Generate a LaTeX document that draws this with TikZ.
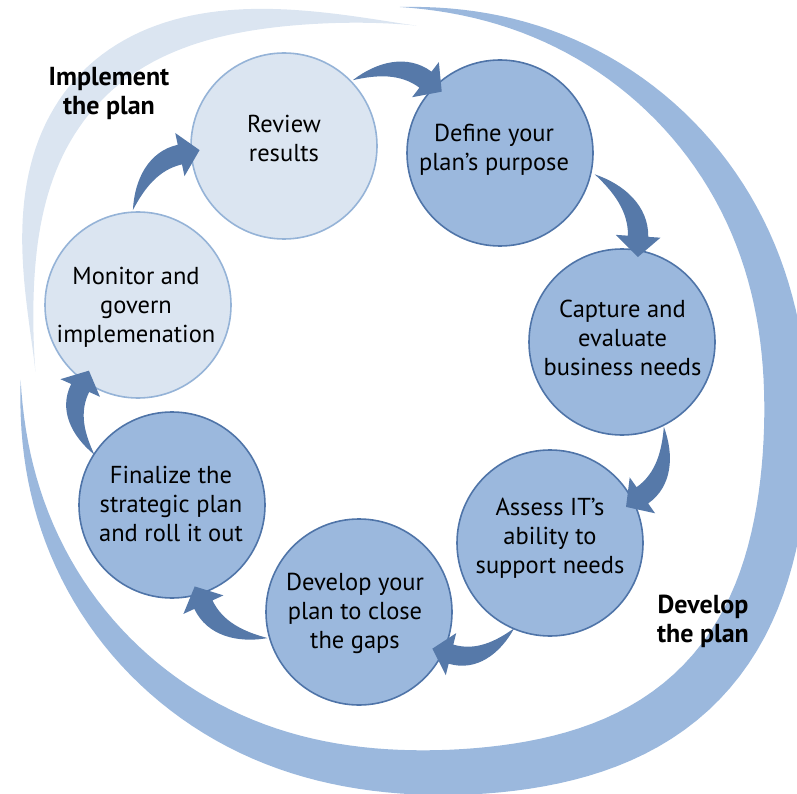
\documentclass[tikz,border=0pt]{standalone}
\usepackage{fontspec}
\newfontfamily\ptsans{PT Sans}
\definecolor{lightfill}{RGB}{219,229,241}
\definecolor{lightline}{RGB}{149,179,215}
\definecolor{midfill}{RGB}{155,184,221}
\definecolor{midline}{RGB}{79,116,168}
\definecolor{arrowc}{RGB}{86,121,169}
\tikzset{
  stagebase/.style={circle, line width=1.6pt, minimum size=186pt, inner sep=0pt},
  lightc/.style={stagebase, draw=lightline, fill=lightfill},
  darkc/.style={stagebase, draw=midline, fill=midfill},
  stagetext/.style={align=center, inner sep=0pt, text=black, font={\ptsans\fontsize{24.5}{29}\selectfont}},
  phase/.style={align=center, inner sep=0pt, font={\ptsans\bfseries\fontsize{26}{29}\selectfont}},
  cyclearrow/.pic={
    \fill[arrowc] (65.6,-68) .. controls +(-40:30) and +(-145:30) .. (142.9,-79.1)
      -- (149.8,-88.9) -- (153.6,-59.4) -- (124.6,-52.9) -- (131.5,-62.7)
      .. controls +(-145:24) and +(-15:24) .. (65.6,-68) -- cycle;
  }
}
\begin{document}
\begin{tikzpicture}[x=1pt,y=-1pt,
  declare function={
    csq(\t)=cos(\t)*cos(\t);
    dbump(\t)=40*csq(\t-45)*csq(\t-45)*csq(\t-45)*csq(\t-45);
    dwid(\t)=50*sin((\t+88.8)*0.670391);
    lrin(\t)=352+50*csq(\t+137)*csq(\t+137)*csq(\t+137)*csq(\t+137);
    lsn(\t)=abs(sin((\t+86)*1.935484));
    lwid(\t)=34*lsn(\t)*sqrt(lsn(\t));
  }]
\useasboundingbox (0,0) rectangle (797,794);
\clip (0,0) rectangle (797,794);
% outer dark band (develop the plan)
\fill[midfill]
  plot[domain=-88.8:179.7, samples=140, variable=\t]
    ({392+(369+dbump(\t)+dwid(\t))*cos(\t)}, {378+(369+dbump(\t)+dwid(\t))*sin(\t)})
  -- plot[domain=179.7:-88.8, samples=140, variable=\t]
    ({392+(369+dbump(\t))*cos(\t)}, {378+(369+dbump(\t))*sin(\t)}) -- cycle;
% light band (implement the plan)
\fill[lightfill]
  plot[domain=-86:-179, samples=80, variable=\t]
    ({392+(lrin(\t)+lwid(\t))*cos(\t)}, {378+(lrin(\t)+lwid(\t))*sin(\t)})
  -- plot[domain=-179:-86, samples=80, variable=\t]
    ({392+lrin(\t)*cos(\t)}, {378+lrin(\t)*sin(\t)}) -- cycle;
% stages
\node[lightc] (rev) at (284,146) {};
\node[darkc] (def) at (500,153) {};
\node[darkc] (cap) at (622,342) {};
\node[darkc] (ass) at (550,543) {};
\node[darkc] (dev) at (359,612) {};
\node[darkc] (fin) at (172,505) {};
\node[lightc] (mon) at (138,305) {};
% stage texts
\node[stagetext] (revt) at (284,138.5) {Review\\results};
\node[stagetext] (deft) at (494,150) {Define your\\plan’s purpose};
\node[stagetext] (capt) at (622.5,337.5) {Capture and\\evaluate\\business needs};
\node[stagetext] (asst) at (550,538) {Assess IT’s\\ability to\\support needs};
\node[stagetext] (devt) at (355,613.5) {Develop your\\plan to close\\the gaps};
\node[stagetext] (fint) at (171,503.5) {Finalize the\\strategic plan\\and roll it out};
\node[stagetext] (mont) at (136,307) {Monitor and\\govern\\implemenation};
% arrows between stages
\path (rev.center) pic[rotate=-1.86, xscale=1.015] {cyclearrow};
\path (def.center) pic[rotate=-57.16, xscale=1.056] {cyclearrow};
\path (cap.center) pic[rotate=-109.71, xscale=1.002] {cyclearrow};
\path (ass.center) pic[rotate=-160.14, xscale=0.954] {cyclearrow};
\path (dev.center) pic[rotate=150.22, xscale=1.011] {cyclearrow};
\path (fin.center) pic[rotate=99.65, xscale=0.953] {cyclearrow};
\path (mon.center) pic[rotate=47.44, xscale=1.014] {cyclearrow};
% phase labels
\node[phase] (impl) at (109,94) {Implement\\the plan};
\node[phase] (devp) at (703,621) {Develop\\the plan};
\end{tikzpicture}
\end{document}
